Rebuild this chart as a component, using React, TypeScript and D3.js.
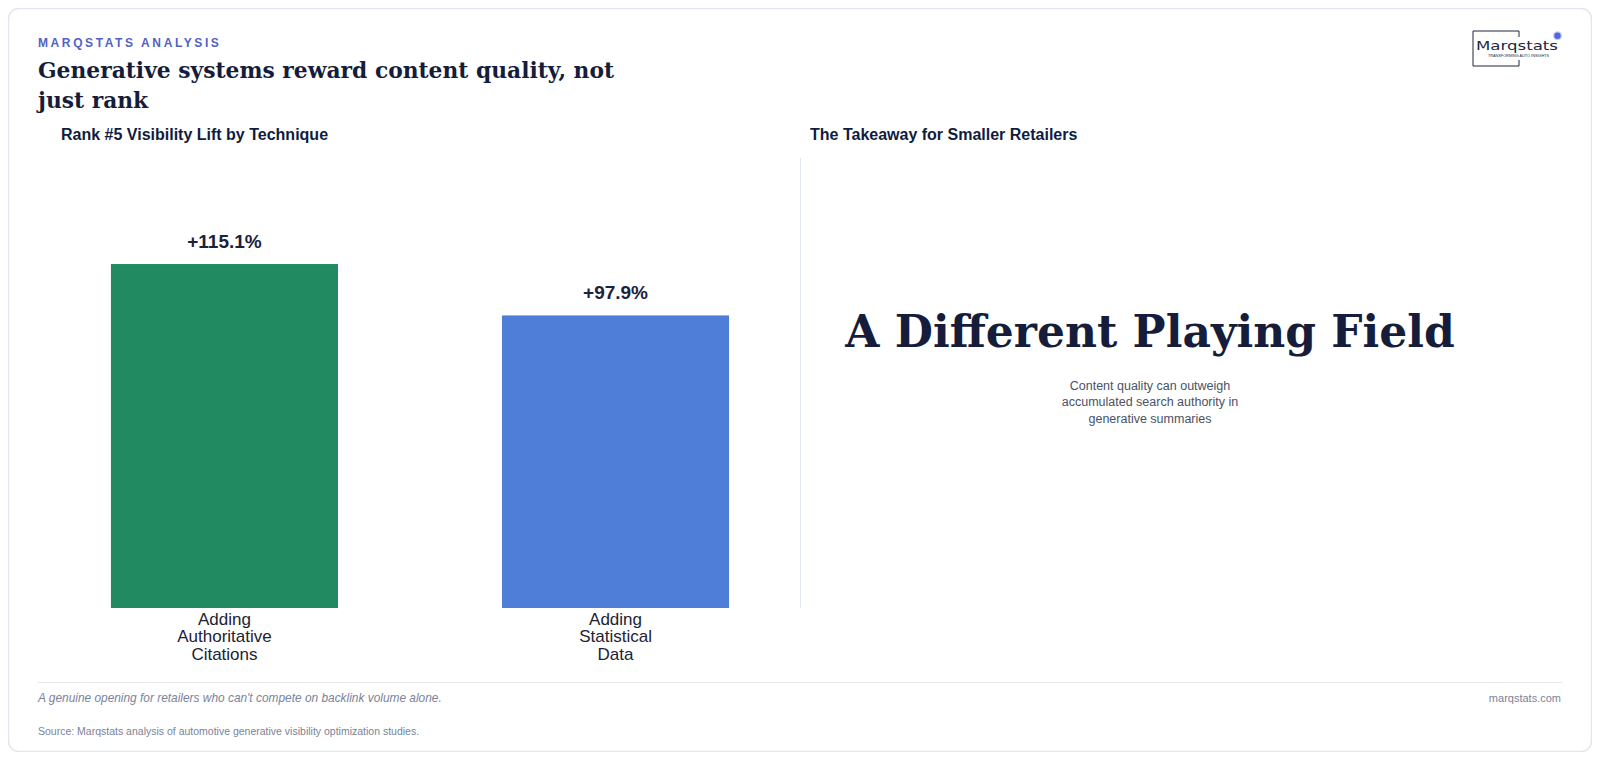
import React from "react";
import * as d3 from "d3";

const categories = ["Adding Authoritative Citations", "Adding Statistical Data"];
const categoryLines = [
  ["Adding", "Authoritative", "Citations"],
  ["Adding", "Statistical", "Data"],
];
const values = [115.1, 97.9];
const valueLabels = ["+115.1%", "+97.9%"];
const barColors = ["#218a60", "#4f7ed9"];
const descriptionLines = [
  "Content quality can outweigh",
  "accumulated search authority in",
  "generative summaries",
];

const SANS = "'Liberation Sans', Arial, Helvetica, sans-serif";
const SERIF = "'DejaVu Serif', Georgia, serif";
const NAVY = "#151d3b";

export default function App() {
  const x = d3
    .scaleBand<string>()
    .domain(categories)
    .range([38, 802])
    .paddingInner(0.4194)
    .paddingOuter(0.1865);
  const y = d3.scaleLinear().domain([0, 130]).range([608, 219.5]);

  return (
    <svg
      width={1584}
      height={744}
      viewBox="8 8 1584 744"
      style={{ display: "block" }}
    >
      <rect
        x={8.5}
        y={8.5}
        width={1583}
        height={743}
        rx={10}
        fill="#ffffff"
        stroke="#e2e6ee"
        strokeWidth={1.5}
      />

      {/* header */}
      <text
        x={38}
        y={47}
        fontFamily={SANS}
        fontSize={12}
        fontWeight={700}
        letterSpacing={2.6}
        fill="#5162c4"
      >
        MARQSTATS ANALYSIS
      </text>
      <text fontFamily={SERIF} fontSize={21.8} fontWeight={700} fill={NAVY}>
        <tspan x={38} y={77.5}>
          Generative systems reward content quality, not
        </tspan>
        <tspan x={38} y={107.5}>
          just rank
        </tspan>
      </text>

      {/* logo */}
      <g>
        <path
          d="M1519 31 L1473 31 L1473 66 L1519 66 M1519 31 L1519 37 M1519 66 L1519 60"
          fill="none"
          stroke="#1e2740"
          strokeWidth={1}
        />
        <text
          x={1476}
          y={49.5}
          fontFamily="'DejaVu Sans', sans-serif"
          fontSize={13}
          fontWeight={400}
          fill="#1e2740"
          textLength={82}
          lengthAdjust="spacingAndGlyphs"
        >
          Marqstats
        </text>
        <text
          x={1518.5}
          y={57}
          textAnchor="middle"
          fontFamily={SANS}
          fontSize={4}
          fill="#1e2740"
          textLength={61}
          lengthAdjust="spacingAndGlyphs"
        >
          TRANSFORMING AUTO INSIGHTS
        </text>
        <circle cx={1557.5} cy={35.7} r={4.5} fill="#c7cdf5" />
        <circle cx={1557.5} cy={35.7} r={3.2} fill="#5565e0" />
      </g>

      {/* panel titles */}
      <text x={61} y={140} fontFamily={SANS} fontSize={16} fontWeight={700} fill="#0f1c3f">
        Rank #5 Visibility Lift by Technique
      </text>
      <text x={810} y={140} fontFamily={SANS} fontSize={16} fontWeight={700} fill="#0f1c3f">
        The Takeaway for Smaller Retailers
      </text>

      {/* divider */}
      <line x1={800.5} x2={800.5} y1={158} y2={608} stroke="#e2e6ee" strokeWidth={1} />

      {/* bars */}
      {categories.map((c, i) => {
        const bx = x(c) as number;
        const bw = x.bandwidth();
        const top = y(values[i]);
        const cx = bx + bw / 2;
        return (
          <g key={c}>
            <rect x={bx} y={top} width={bw} height={y(0) - top} fill={barColors[i]} />
            <text
              x={cx}
              y={top - 16.5}
              textAnchor="middle"
              fontFamily={SANS}
              fontSize={19}
              fontWeight={700}
              fill="#1a2240"
            >
              {valueLabels[i]}
            </text>
            <text textAnchor="middle" fontFamily={SANS} fontSize={17} fill="#1c2333">
              {categoryLines[i].map((ln, j) => (
                <tspan key={j} x={cx} y={624.5 + j * 17.5}>
                  {ln}
                </tspan>
              ))}
            </text>
          </g>
        );
      })}

      {/* takeaway */}
      <text
        x={1150}
        y={346.5}
        textAnchor="middle"
        fontFamily={SERIF}
        fontSize={44}
        fontWeight={700}
        fill={NAVY}
      >
        A Different Playing Field
      </text>
      <text textAnchor="middle" fontFamily={SANS} fontSize={12.5} fill="#4a5264">
        {descriptionLines.map((ln, j) => (
          <tspan key={j} x={1150} y={390 + j * 16.3}>
            {ln}
          </tspan>
        ))}
      </text>

      {/* footer */}
      <line x1={38} x2={1562} y1={682.5} y2={682.5} stroke="#e2e6ee" strokeWidth={1} />
      <text x={38} y={702} fontFamily={SANS} fontSize={11.9} fontStyle="italic" fill="#7a8399">
        A genuine opening for retailers who can't compete on backlink volume alone.
      </text>
      <text x={1561} y={701.5} textAnchor="end" fontFamily={SANS} fontSize={11} fill="#7a8399">
        marqstats.com
      </text>
      <text x={38} y={735} fontFamily={SANS} fontSize={10.5} fill="#7a8399">
        Source: Marqstats analysis of automotive generative visibility optimization studies.
      </text>
    </svg>
  );
}
